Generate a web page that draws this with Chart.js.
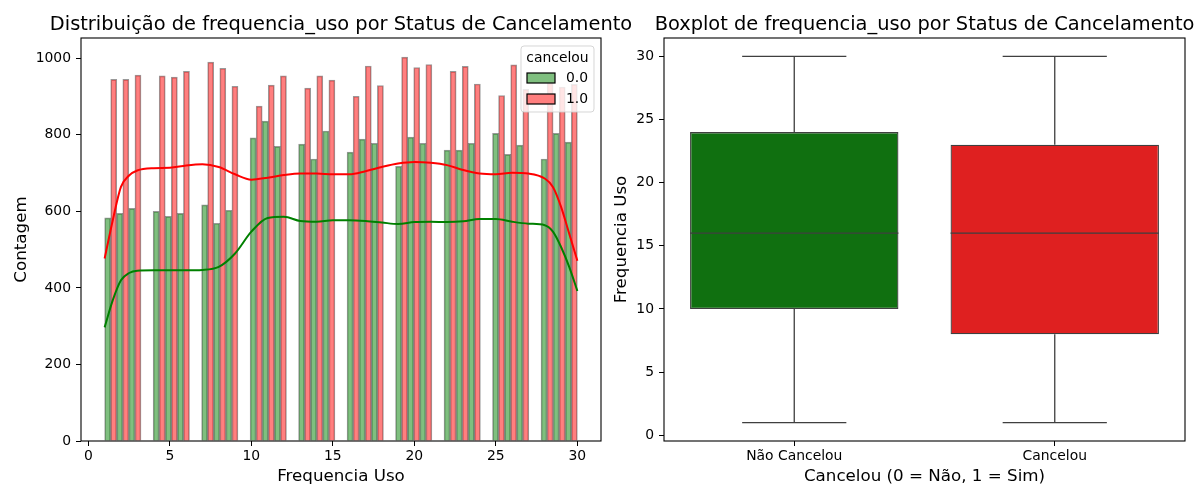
<!DOCTYPE html>
<html>
<head>
<meta charset="utf-8">
<script src="https://cdn.jsdelivr.net/npm/chart.js@4.4.1/dist/chart.umd.min.js"></script>
<style>
	body { margin: 0; background: #fff; }
	#wrap { position: relative; width: 1200px; height: 500px; overflow: hidden; }
	.box { position: absolute; top: 0; height: 500px; }
</style>
</head>
<body>
<div id="wrap">
	<div class="box" style="left:0;width:640px"><canvas id="hist"></canvas></div>
	<div class="box" style="left:600px;width:600px"><canvas id="boxplot"></canvas></div>
</div>
<script>
// histograma: contagem por valor de frequencia_uso
const frequencias = [1, 2, 3, 4, 5, 6, 7, 8, 9, 10, 11, 12, 13, 14, 15, 16, 17, 18, 19, 20, 21, 22, 23, 24, 25, 26, 27, 28, 29, 30]
const contagemNaoCancelou = [583, 595, 608, 600, 587, 595, 617, 569, 603, 792, 836, 770, 776, 737, 810, 755, 789, 778, 718, 794, 778, 760, 760, 778, 804, 749, 773, 737, 804, 781]
const contagemCancelou = [945, 945, 956, 954, 951, 966, 990, 974, 927, 875, 930, 954, 922, 954, 943, 901, 980, 929, 1003, 976, 984, 966, 979, 933, 903, 983, 919, 935, 925, 932]
const numBins = 39

// curvas kde
const kdeX = [1, 1.5, 2, 2.5, 3, 4, 5, 6, 7, 8, 9, 10, 11, 12, 13, 14, 15, 16, 17, 18, 19, 20, 21, 22, 23, 24, 25, 26, 27, 28, 28.5, 29, 29.5, 30]
const kdeNaoCancelou = [297, 368, 420, 439, 445, 446, 446, 446, 447, 455, 490, 547, 583, 586, 575, 573, 577, 577, 575, 571, 567, 572, 573, 572, 574, 580, 580, 573, 568, 564, 547, 507, 455, 392]
const kdeCancelou = [477, 577, 664, 694, 707, 713, 714, 720, 723, 716, 697, 683, 688, 695, 699, 699, 697, 697, 705, 716, 725, 729, 727, 721, 708, 699, 697, 701, 699, 686, 664, 612, 542, 471]

// boxplot
const boxCategorias = ['Não Cancelou', 'Cancelou']
const boxMin = [1, 1]
const boxQ1 = [10, 8]
const boxMediana = [16, 16]
const boxQ3 = [24, 23]
const boxMax = [30, 30]

const histXTicks = [0, 5, 10, 15, 20, 25, 30]
const histYTicks = [0, 200, 400, 600, 800, 1000]
const boxYTicks = [0, 5, 10, 15, 20, 25, 30]

const FONT = 'DejaVu Sans'
const tickFont = { family: FONT, size: 13.9 }
const labelFont = { family: FONT, size: 16.7 }
const EDGE = '#3f3f3f'

function setTicks(values) {
	return (scale) => { scale.ticks = values.map((v) => ({ value: v })) }
}
const plainLabel = (value) => String(value)

// agrupa os valores nos bins como o histplot
const fMin = Math.min(...frequencias)
const fMax = Math.max(...frequencias)
const binWidth = (fMax - fMin) / numBins
const binCenters = frequencias.map((v) => {
	const idx = Math.min(numBins - 1, Math.floor((v - fMin) / binWidth))
	return fMin + (idx + 0.5) * binWidth
})
const histYMax = Math.max(...contagemNaoCancelou, ...contagemCancelou) * 1.05
const histPad = (fMax - fMin) * 0.05

const framePlugin = {
	id: 'frame',
	afterDraw(chart, args, opts) {
		const { ctx, chartArea } = chart
		ctx.save()
		ctx.strokeStyle = '#000'
		ctx.lineWidth = 1.1
		ctx.strokeRect(chartArea.left, chartArea.top, chartArea.right - chartArea.left, chartArea.bottom - chartArea.top)
		ctx.fillStyle = '#000'
		ctx.font = '19.4px "' + FONT + '"'
		ctx.textAlign = 'center'
		ctx.textBaseline = 'alphabetic'
		ctx.fillText(opts.title, (chartArea.left + chartArea.right) / 2, chartArea.top - 8.5)
		ctx.restore()
	},
}

const legendPlugin = {
	id: 'histLegend',
	afterDraw(chart) {
		const { ctx, chartArea } = chart
		const right = chartArea.right - 7
		const top = chartArea.top + 8
		const w = 73, h = 66
		const left = right - w
		ctx.save()
		ctx.beginPath()
		ctx.roundRect(left, top, w, h, 3)
		ctx.fillStyle = 'rgba(255,255,255,0.8)'
		ctx.fill()
		ctx.strokeStyle = 'rgba(204,204,204,0.8)'
		ctx.lineWidth = 1
		ctx.stroke()
		ctx.fillStyle = '#000'
		ctx.font = '13.9px "' + FONT + '"'
		ctx.textAlign = 'center'
		ctx.textBaseline = 'middle'
		ctx.fillText('cancelou', left + w / 2, top + 12)
		const items = chart.data.datasets.filter((ds) => ds.type === 'bar')
		items.forEach((ds, i) => {
			const y = top + 27 + i * 21
			ctx.fillStyle = '#fff'
			ctx.fillRect(left + 6, y, 28, 10)
			ctx.fillStyle = ds.backgroundColor
			ctx.fillRect(left + 6, y, 28, 10)
			ctx.strokeStyle = '#000'
			ctx.lineWidth = 1.2
			ctx.strokeRect(left + 6, y, 28, 10)
			ctx.fillStyle = '#000'
			ctx.textAlign = 'left'
			ctx.fillText(ds.label, left + 45, y + 5.5)
		})
		ctx.restore()
	},
}

new Chart(document.getElementById('hist'), {
	data: {
		datasets: [
			{
				type: 'bar',
				label: '0.0',
				data: binCenters.map((x, i) => ({ x, y: contagemNaoCancelou[i] })),
				backgroundColor: 'rgba(0,128,0,0.5)',
				borderColor: 'rgba(0,0,0,0.4)',
				borderWidth: 1,
				categoryPercentage: 1,
				barPercentage: 1,
				order: 1,
			},
			{
				type: 'bar',
				label: '1.0',
				data: binCenters.map((x, i) => ({ x, y: contagemCancelou[i] })),
				backgroundColor: 'rgba(255,0,0,0.5)',
				borderColor: 'rgba(0,0,0,0.4)',
				borderWidth: 1,
				categoryPercentage: 1,
				barPercentage: 1,
				order: 1,
			},
			{
				type: 'line',
				label: 'kde 0.0',
				data: kdeX.map((x, i) => ({ x, y: kdeNaoCancelou[i] })),
				borderColor: '#008000',
				borderWidth: 2,
				pointRadius: 0,
				cubicInterpolationMode: 'monotone',
				order: 0,
			},
			{
				type: 'line',
				label: 'kde 1.0',
				data: kdeX.map((x, i) => ({ x, y: kdeCancelou[i] })),
				borderColor: '#ff0000',
				borderWidth: 2,
				pointRadius: 0,
				cubicInterpolationMode: 'monotone',
				order: 0,
			},
		],
	},
	options: {
		responsive: true,
		maintainAspectRatio: false,
		animation: false,
		layout: { padding: { top: 38, right: 39, left: 0, bottom: 0 } },
		plugins: {
			legend: { display: false },
			tooltip: { enabled: false },
			frame: { title: 'Distribuição de frequencia_uso por Status de Cancelamento' },
		},
		scales: {
			x: {
				type: 'linear',
				min: fMin - histPad,
				max: fMax + histPad,
				offset: false,
				afterBuildTicks: setTicks(histXTicks),
				afterFit: (scale) => { scale.height = 59 },
				grid: { display: true, drawOnChartArea: false, drawTicks: true, tickLength: 5, color: '#000', offset: false },
				border: { display: false },
				ticks: { font: tickFont, color: '#000', padding: 2, maxRotation: 0, callback: plainLabel },
				title: { display: true, text: 'Frequencia Uso', font: labelFont, color: '#000', padding: { top: 0, bottom: 13 } },
			},
			y: {
				min: 0,
				max: histYMax,
				afterBuildTicks: setTicks(histYTicks),
				afterFit: (scale) => { scale.width = 81 },
				grid: { display: true, drawOnChartArea: false, drawTicks: true, tickLength: 5, color: '#000' },
				border: { display: false },
				ticks: { font: tickFont, color: '#000', padding: 5, callback: plainLabel },
				title: { display: true, text: 'Contagem', font: labelFont, color: '#000', padding: { top: 12, bottom: 0 } },
			},
		},
	},
	plugins: [framePlugin, legendPlugin],
})

// bigodes e mediana do boxplot, pelas escalas do chart
const whiskerPlugin = {
	id: 'whiskers',
	afterDatasetsDraw(chart) {
		const { ctx } = chart
		const xs = chart.scales.x
		const ys = chart.scales.y
		const meta = chart.getDatasetMeta(0)
		ctx.save()
		ctx.strokeStyle = EDGE
		ctx.lineWidth = 1.3
		boxCategorias.forEach((cat, i) => {
			const x = xs.getPixelForValue(i)
			const half = meta.data[i].width / 2
			const cap = half / 2
			const yMin = ys.getPixelForValue(boxMin[i])
			const yMax = ys.getPixelForValue(boxMax[i])
			const yQ1 = ys.getPixelForValue(boxQ1[i])
			const yQ3 = ys.getPixelForValue(boxQ3[i])
			const yMed = ys.getPixelForValue(boxMediana[i])
			ctx.beginPath()
			ctx.moveTo(x, yQ1); ctx.lineTo(x, yMin)
			ctx.moveTo(x, yQ3); ctx.lineTo(x, yMax)
			ctx.moveTo(x - cap, yMin); ctx.lineTo(x + cap, yMin)
			ctx.moveTo(x - cap, yMax); ctx.lineTo(x + cap, yMax)
			ctx.moveTo(x - half, yMed); ctx.lineTo(x + half, yMed)
			ctx.stroke()
		})
		ctx.restore()
	},
}

const boxLo = Math.min(...boxMin)
const boxHi = Math.max(...boxMax)
const boxPad = (boxHi - boxLo) * 0.05

new Chart(document.getElementById('boxplot'), {
	type: 'bar',
	data: {
		labels: boxCategorias,
		datasets: [
			{
				label: 'frequencia_uso',
				data: boxQ1.map((q1, i) => [q1, boxQ3[i]]),
				backgroundColor: ['#107010', '#df2020'],
				borderColor: EDGE,
				borderWidth: 1.3,
				borderSkipped: false,
				categoryPercentage: 0.8,
				barPercentage: 1,
			},
		],
	},
	options: {
		responsive: true,
		maintainAspectRatio: false,
		animation: false,
		layout: { padding: { top: 38, right: 15, left: 0, bottom: 0 } },
		plugins: {
			legend: { display: false },
			tooltip: { enabled: false },
			frame: { title: 'Boxplot de frequencia_uso por Status de Cancelamento' },
		},
		scales: {
			x: {
				afterFit: (scale) => { scale.height = 59 },
				grid: { display: true, drawOnChartArea: false, drawTicks: true, tickLength: 5, color: '#000', offset: false },
				border: { display: false },
				ticks: { font: tickFont, color: '#000', padding: 2, maxRotation: 0 },
				title: { display: true, text: 'Cancelou (0 = Não, 1 = Sim)', font: labelFont, color: '#000', padding: { top: 0, bottom: 13 } },
			},
			y: {
				min: boxLo - boxPad,
				max: boxHi + boxPad,
				afterBuildTicks: setTicks(boxYTicks),
				afterFit: (scale) => { scale.width = 64 },
				grid: { display: true, drawOnChartArea: false, drawTicks: true, tickLength: 5, color: '#000' },
				border: { display: false },
				ticks: { font: tickFont, color: '#000', padding: 5, callback: plainLabel },
				title: { display: true, text: 'Frequencia Uso', font: labelFont, color: '#000', padding: { top: 12, bottom: 0 } },
			},
		},
	},
	plugins: [whiskerPlugin, framePlugin],
})
</script>
</body>
</html>
